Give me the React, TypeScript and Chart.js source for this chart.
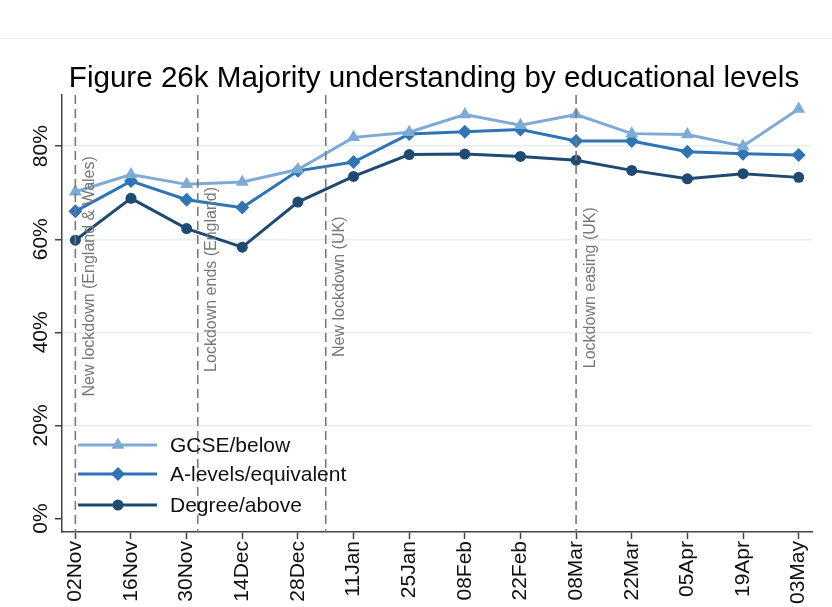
import React, { useEffect, useRef } from "react";
import { Chart, registerables } from "chart.js";

Chart.register(...registerables);

const tickLabels = ["02Nov", "16Nov", "30Nov", "14Dec", "28Dec", "11Jan", "25Jan", "08Feb", "22Feb", "08Mar", "22Mar", "05Apr", "19Apr", "03May"];
const gcseBelow = [70.2, 73.9, 71.8, 72.3, 75.0, 81.9, 83.0, 86.8, 84.5, 86.8, 82.7, 82.5, 80.0, 88.0];
const aLevels = [66.0, 72.5, 68.5, 66.8, 74.7, 76.6, 82.6, 83.1, 83.6, 81.1, 81.1, 78.8, 78.4, 78.1];
const degreeAbove = [59.8, 68.8, 62.3, 58.3, 68.0, 73.5, 78.2, 78.3, 77.8, 77.0, 74.8, 73.0, 74.1, 73.3];
const yTicks = [0, 20, 40, 60, 80];

const eventX = [0, 2.2, 4.5, 9];
const eventLabels = ["New lockdown (England & Wales)", "Lockdown ends (England)", "New lockdown (UK)", "Lockdown easing (UK)"];
const eventLabelY = [26.2, 31.5, 34.7, 32.3];

const seriesNames = ["GCSE/below", "A-levels/equivalent", "Degree/above"];
const seriesColors = ["#7eaad6", "#2f74b5", "#1f4a73"];
const seriesStyles = ["triangle", "rectRot", "circle"];
const seriesRadius = [7.5, 7, 5.5];

const FONT = "'Liberation Sans', Arial, sans-serif";

function drawMarker(ctx: CanvasRenderingContext2D, style: string, r: number, x: number, y: number) {
  ctx.beginPath();
  if (style === "circle") {
    ctx.arc(x, y, r, 0, Math.PI * 2);
  } else if (style === "rectRot") {
    ctx.moveTo(x, y - r);
    ctx.lineTo(x + r, y);
    ctx.lineTo(x, y + r);
    ctx.lineTo(x - r, y);
    ctx.closePath();
  } else {
    const rad = -Math.PI / 2;
    ctx.moveTo(x + Math.cos(rad) * r, y + Math.sin(rad) * r);
    ctx.lineTo(x + Math.cos(rad + (2 * Math.PI) / 3) * r, y + Math.sin(rad + (2 * Math.PI) / 3) * r);
    ctx.lineTo(x + Math.cos(rad + (4 * Math.PI) / 3) * r, y + Math.sin(rad + (4 * Math.PI) / 3) * r);
    ctx.closePath();
  }
  ctx.fill();
}

const overlayPlugin = {
  id: "overlay",
  beforeDraw(chart: any) {
    const ctx = chart.ctx;
    ctx.save();
    ctx.fillStyle = "#ffffff";
    ctx.fillRect(0, 0, chart.width, chart.height);
    ctx.strokeStyle = "#efefef";
    ctx.lineWidth = 1;
    ctx.beginPath();
    ctx.moveTo(0, 38.5);
    ctx.lineTo(chart.width, 38.5);
    ctx.stroke();
    ctx.restore();
  },
  afterDatasetsDraw(chart: any) {
    const ctx = chart.ctx;
    const xs = chart.scales.x;
    const ys = chart.scales.y;
    const area = chart.chartArea;
    ctx.save();
    ctx.fillStyle = "#000";
    ctx.font = `29.6px ${FONT}`;
    ctx.textAlign = "center";
    ctx.textBaseline = "alphabetic";
    ctx.fillText("Figure 26k Majority understanding by educational levels", 434, 87);

    ctx.font = `21px ${FONT}`;
    ctx.fillStyle = "#111";
    yTicks.forEach((v) => {
      const y = ys.getPixelForValue(v);
      ctx.save();
      ctx.translate(47, y);
      ctx.rotate(-Math.PI / 2);
      ctx.textAlign = "center";
      ctx.textBaseline = "alphabetic";
      ctx.fillText(v + "%", 0, 0);
      ctx.restore();
    });

    eventX.forEach((ex, i) => {
      const x = xs.getPixelForValue(ex);
      ctx.save();
      ctx.strokeStyle = "#7a7a7a";
      ctx.lineWidth = 1.6;
      ctx.setLineDash([9, 5]);
      ctx.beginPath();
      ctx.moveTo(x, area.top);
      ctx.lineTo(x, area.bottom);
      ctx.stroke();
      ctx.restore();
      ctx.save();
      ctx.translate(x + 6, ys.getPixelForValue(eventLabelY[i]));
      ctx.rotate(-Math.PI / 2);
      ctx.font = `16px ${FONT}`;
      ctx.fillStyle = "#777";
      ctx.textAlign = "left";
      ctx.textBaseline = "top";
      ctx.fillText(eventLabels[i], 0, 0);
      ctx.restore();
    });

    const legY = [445, 474, 505];
    seriesNames.forEach((name, i) => {
      const y = legY[i];
      ctx.save();
      ctx.strokeStyle = seriesColors[i];
      ctx.lineWidth = 3;
      ctx.beginPath();
      ctx.moveTo(78, y);
      ctx.lineTo(157, y);
      ctx.stroke();
      ctx.fillStyle = seriesColors[i];
      drawMarker(ctx, seriesStyles[i], seriesRadius[i], 118, y);
      ctx.fillStyle = "#111";
      ctx.font = `21px ${FONT}`;
      ctx.textAlign = "left";
      ctx.textBaseline = "middle";
      ctx.fillText(name, 170, y + 1);
      ctx.restore();
    });
    ctx.restore();
  },
};

export default function App() {
  const ref = useRef<HTMLCanvasElement | null>(null);
  useEffect(() => {
    if (!ref.current) return;
    const series = [gcseBelow, aLevels, degreeAbove];
    const chart = new Chart(ref.current, {
      type: "line",
      data: {
        datasets: series.map((vals, i) => ({
          label: seriesNames[i],
          data: vals.map((v, j) => ({ x: j, y: v })),
          borderColor: seriesColors[i],
          backgroundColor: seriesColors[i],
          borderWidth: 3,
          pointStyle: seriesStyles[i] as any,
          pointRadius: seriesRadius[i],
          pointBorderWidth: 0,
          tension: 0,
          fill: false,
        })),
      },
      options: {
        responsive: false,
        animation: false,
        events: [],
        layout: { padding: { top: 95, right: 20, left: 0, bottom: 0 } },
        plugins: {
          legend: { display: false },
          title: { display: false },
          tooltip: { enabled: false },
        },
        scales: {
          x: {
            type: "linear",
            min: -0.24,
            max: 13.24,
            afterBuildTicks: (s: any) => {
              s.ticks = tickLabels.map((_, i) => ({ value: i }));
            },
            afterFit: (s: any) => {
              s.height = 75;
              s.paddingLeft = 0;
              s.paddingRight = 0;
            },
            ticks: {
              autoSkip: false,
              minRotation: 90,
              maxRotation: 90,
              padding: 2,
              color: "#111",
              font: { family: FONT, size: 21 },
              callback: (v: any) => tickLabels[Math.round(Number(v))] ?? "",
            },
            grid: {
              drawOnChartArea: false,
              drawTicks: true,
              tickLength: 7,
              tickColor: "#444",
              tickWidth: 1.5,
            },
            border: { color: "#444", width: 1.5 },
          },
          y: {
            type: "linear",
            min: -2.9,
            max: 91,
            afterBuildTicks: (s: any) => {
              s.ticks = yTicks.map((v) => ({ value: v }));
            },
            afterFit: (s: any) => {
              s.width = 62;
              s.paddingTop = 0;
              s.paddingBottom = 0;
            },
            ticks: { display: false },
            grid: {
              color: (c: any) => (c.tick && c.tick.value === 0 ? "rgba(0,0,0,0)" : "#e7efef"),
              lineWidth: 1.5,
              tickLength: 7,
              tickColor: "#444",
              tickWidth: 1.5,
            },
            border: { color: "#444", width: 1.5 },
          },
        },
      },
      plugins: [overlayPlugin],
    });
    return () => chart.destroy();
  }, []);
  return (
    <div style={{ position: "fixed", left: 0, top: 0, width: 832, height: 607, background: "#fff" }}>
      <canvas ref={ref} width={832} height={607} style={{ width: 832, height: 607, display: "block" }} />
    </div>
  );
}
